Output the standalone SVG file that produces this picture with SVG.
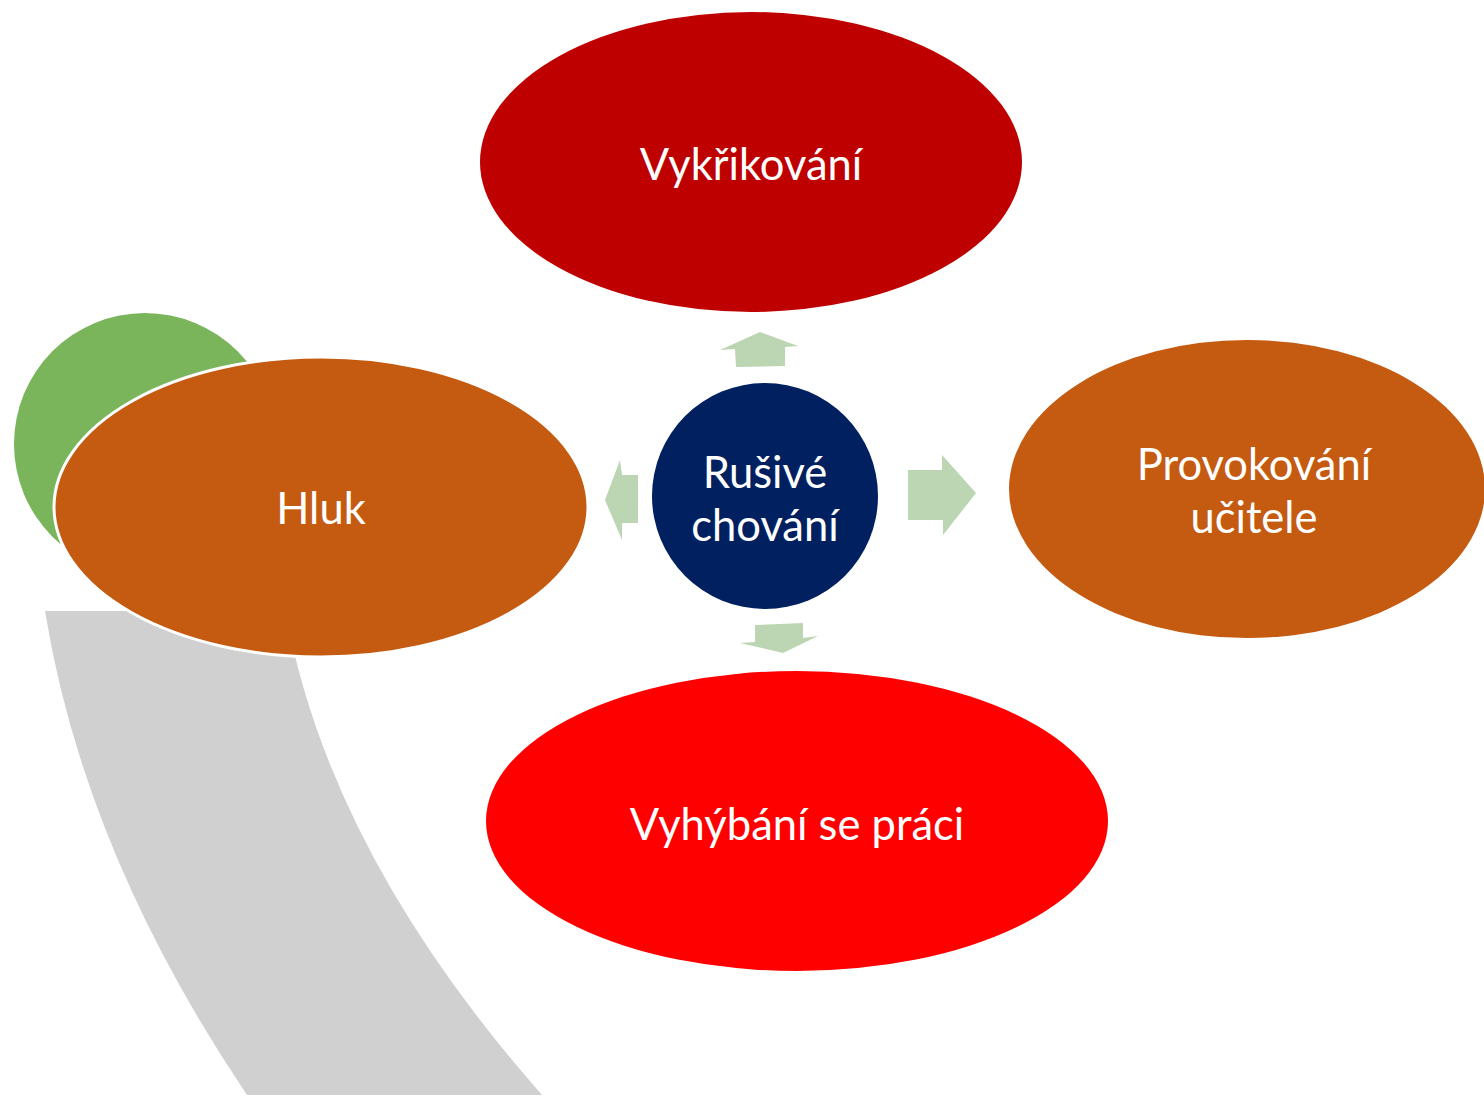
<svg xmlns="http://www.w3.org/2000/svg" width="1484" height="1097" viewBox="0 0 1484 1097">
<style>
.lbl{font-family:Lato,"Open Sans","Liberation Sans",sans-serif;font-size:43.5px;fill:#ffffff;text-anchor:middle}
.arr{fill:#bcd5b2}
</style>
<rect width="1484" height="1097" fill="#ffffff"/>
<g id="decor">
<path d="M45,611 L285.5,611 Q328.8,853 542,1095 L247,1095 Q84.1,853 45,611 Z" fill="#d0d0d0"/>
<circle cx="145" cy="444" r="131" fill="#7ab55c"/>
</g>
<g id="connectors">
<path class="arr" d="M760,332 L798,346 L785,347 L785,366 L736,367 L735,349 L720,350 Z"/>
<path class="arr" d="M605,500 L620,460 L622,475 L638,475 L638,523 L622,523 L622,540 Z"/>
<path class="arr" d="M976,493 L942,455 L942,470 L908,470 L908,520 L943,520 L943,535 Z"/>
<path class="arr" d="M783,653 L818,636 L803,638 L803,623 L755,625 L755,642 L740,643 Z"/>
</g>
<g id="hluk">
<ellipse cx="321" cy="507" rx="267" ry="150" fill="#c55a11" stroke="#ffffff" stroke-width="3"/>
<text class="lbl" x="321" y="524">Hluk</text>
</g>
<g id="vykrikovani">
<ellipse cx="751" cy="162" rx="271" ry="150" fill="#bf0000"/>
<text class="lbl" x="751" y="180">Vykřikování</text>
</g>
<g id="provokovani">
<ellipse cx="1247" cy="489" rx="238" ry="149" fill="#c55a11"/>
<text class="lbl" x="1254" y="480">Provokování</text>
<text class="lbl" x="1254" y="533">učitele</text>
</g>
<g id="vyhybani">
<ellipse cx="797" cy="821" rx="311" ry="150" fill="#ff0000"/>
<text class="lbl" x="797" y="840">Vyhýbání se práci</text>
</g>
<g id="rusive">
<circle cx="765" cy="496" r="113" fill="#002060"/>
<text class="lbl" x="765" y="488">Rušivé</text>
<text class="lbl" x="765" y="541">chování</text>
</g>
</svg>
